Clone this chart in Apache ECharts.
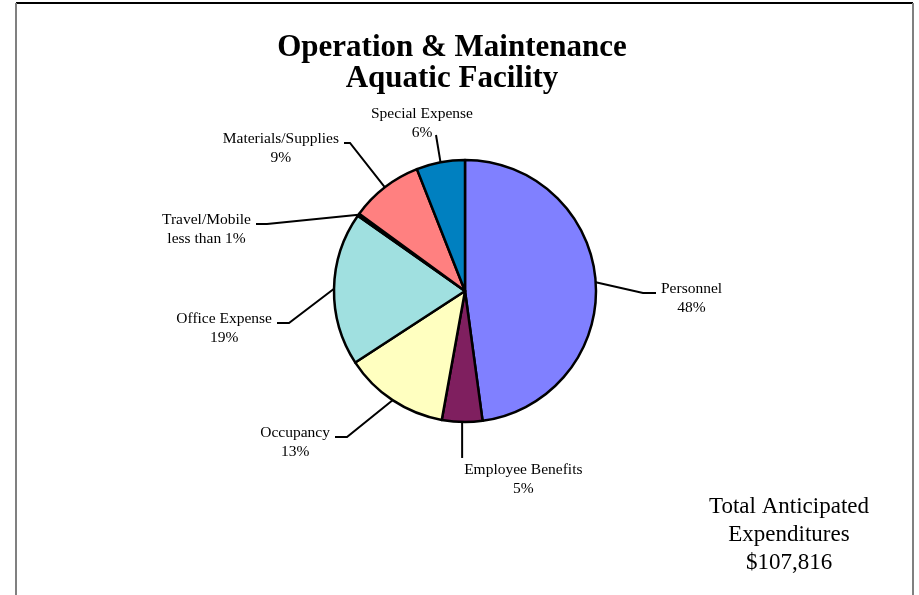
<!DOCTYPE html>
<html>
<head>
<meta charset="utf-8">
<title>Operation &amp; Maintenance - Aquatic Facility</title>
<script src="https://cdn.jsdelivr.net/npm/echarts@6/dist/echarts.min.js"></script>
<style>
  html, body { margin: 0; padding: 0; background: #ffffff; }
  #chart { width: 919px; height: 595px; }
</style>
</head>
<body>
<div id="chart"></div>
<script>
// Budget categories and their share of total expenditures (percent)
const categories = ['Personnel', 'Employee Benefits', 'Occupancy', 'Office Expense',
                    'Travel/Mobile', 'Materials/Supplies', 'Special Expense'];
const shares = [48, 5, 13, 19, 0.3, 9, 6];
const sliceColors = ['#8080FF', '#7F1F5F', '#FFFFC0', '#A0E0E0', '#660066', '#FF8080', '#0080C0'];

const titleLines = ['Operation & Maintenance', 'Aquatic Facility'];
const totalLines = ['Total Anticipated', 'Expenditures', '$107,816'];

// Pie geometry
const PIE_CX = 465, PIE_CY = 291, PIE_R = 131;
const SERIF = '"Liberation Serif", "Times New Roman", serif';

// Leader line routing per slice: elbow relative to pie centre, then a short
// horizontal stub toward the text.
const leaders = [
  { kind: 'side', elbow: [178, 2], stub: 13, dir: 1 },
  { kind: 'below', drop: 36 },
  { kind: 'side', elbow: [-118, 146], stub: 12, dir: -1 },
  { kind: 'side', elbow: [-176, 32], stub: 12, dir: -1 },
  { kind: 'side', elbow: [-198, -67], stub: 11, dir: -1 },
  { kind: 'side', elbow: [-115, -148], stub: 6, dir: -1 },
  { kind: 'above', end: [-29, -156], textShift: [-14, -12] }
];

// Mid-angle edge point of a slice (start at 12 o'clock, clockwise)
function edgePoint(idx) {
  const total = shares.reduce((a, b) => a + b, 0);
  let before = 0;
  for (let i = 0; i < idx; i++) before += shares[i];
  const mid = (before + shares[idx] / 2) / total * Math.PI * 2;
  return [PIE_CX + PIE_R * Math.sin(mid), PIE_CY - PIE_R * Math.cos(mid)];
}

function pctText(v) {
  return v < 1 ? 'less than 1%' : Math.round(v) + '%';
}

const chart = echarts.init(document.getElementById('chart'), null, { renderer: 'canvas' });

chart.setOption({
  backgroundColor: '#ffffff',
  animation: false,
  title: {
    text: titleLines.join('\n'),
    left: 447,
    top: 27,
    textAlign: 'center',
    textStyle: {
      fontFamily: SERIF,
      fontSize: 31,
      fontWeight: 'bold',
      color: '#000000',
      lineHeight: 31
    }
  },
  graphic: [
    { type: 'line', silent: true, shape: { x1: 16, y1: 3, x2: 913, y2: 3 },
      style: { stroke: '#000000', lineWidth: 2 } },
    { type: 'line', silent: true, shape: { x1: 16, y1: 3, x2: 16, y2: 600 },
      style: { stroke: '#808080', lineWidth: 2 } },
    { type: 'line', silent: true, shape: { x1: 913, y1: 3, x2: 913, y2: 600 },
      style: { stroke: '#808080', lineWidth: 2 } },
    { type: 'text', silent: true, x: 789, y: 535,
      style: {
        text: totalLines.join('\n'),
        font: '23px ' + SERIF,
        fill: '#000000',
        align: 'center',
        verticalAlign: 'middle',
        lineHeight: 28
      } }
  ],
  series: [{
    type: 'pie',
    center: [PIE_CX, PIE_CY],
    radius: PIE_R,
    startAngle: 90,
    clockwise: true,
    avoidLabelOverlap: false,
    emphasis: { disabled: true },
    itemStyle: { borderColor: '#000000', borderWidth: 2.5 },
    label: {
      show: true,
      position: 'outside',
      color: '#000000',
      fontFamily: SERIF,
      fontSize: 15.5,
      lineHeight: 19,
      align: 'center',
      formatter: p => p.name + '\n' + pctText(p.value)
    },
    labelLine: {
      show: true,
      length: 10,
      length2: 10,
      lineStyle: { color: '#000000', width: 2 }
    },
    labelLayout: function (params) {
      const i = params.dataIndex;
      const cfg = leaders[i];
      const pts = params.labelLinePoints;
      const p0 = (pts && pts[0]) ? pts[0] : edgePoint(i);
      const w = params.labelRect.width;
      const h = params.labelRect.height;
      if (cfg.kind === 'side') {
        const elbow = [PIE_CX + cfg.elbow[0], PIE_CY + cfg.elbow[1]];
        const end = [elbow[0] + cfg.dir * cfg.stub, elbow[1]];
        const gap = 5;
        return {
          x: end[0] + cfg.dir * (gap + w / 2),
          y: end[1] + 5,
          align: 'center',
          verticalAlign: 'middle',
          labelLinePoints: [p0, elbow, end]
        };
      }
      if (cfg.kind === 'below') {
        const end = [p0[0], p0[1] + cfg.drop];
        return {
          x: end[0] + 2 + w / 2,
          y: end[1] + 2 + h / 2,
          align: 'center',
          verticalAlign: 'middle',
          labelLinePoints: [p0, end, end]
        };
      }
      const end = [PIE_CX + cfg.end[0], PIE_CY + cfg.end[1]];
      return {
        x: end[0] + cfg.textShift[0],
        y: end[1] + cfg.textShift[1],
        align: 'center',
        verticalAlign: 'middle',
        labelLinePoints: [p0, end, end]
      };
    },
    data: categories.map((name, i) => ({
      name: name,
      value: shares[i],
      itemStyle: { color: sliceColors[i] }
    }))
  }]
});
</script>
</body>
</html>
